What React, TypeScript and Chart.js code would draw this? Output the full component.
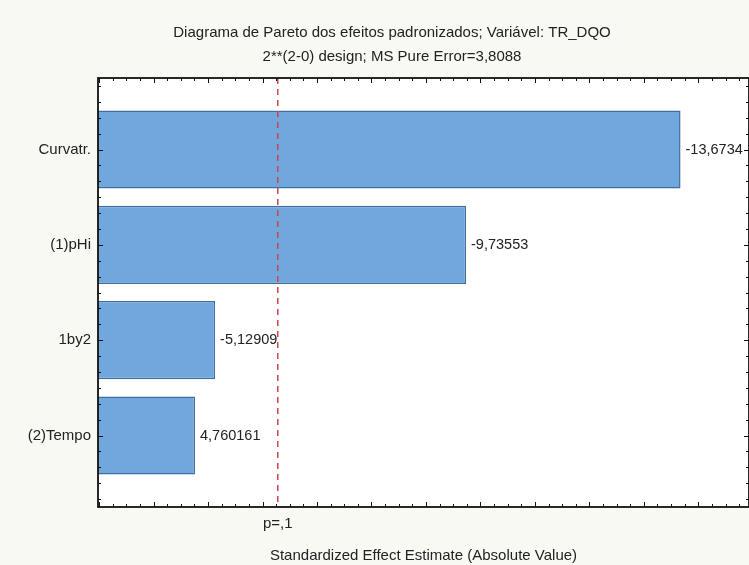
import React, { useEffect, useRef } from "react";
import { Chart, registerables } from "chart.js";

Chart.register(...registerables);

const categories = ["Curvatr.", "(1)pHi", "1by2", "(2)Tempo"];
const effects = [-13.6734, -9.73553, -5.12909, 4.760161];
const titleLines = [
  "Diagrama de Pareto dos efeitos padronizados; Variável: TR_DQO",
  "2**(2-0) design; MS Pure Error=3,8088",
];
const xAxisTitle = "Standardized Effect Estimate (Absolute Value)";
const pLabel = "p=,1";
const pValueLine = 6.28;
const xMin = 2.98;
const xMax = 14.93;

const FONT = '"Liberation Sans", Arial, sans-serif';

const framePlugin = {
  id: "framePlugin",
  beforeDraw(chart: any) {
    const { ctx, chartArea: a, width, height } = chart;
    ctx.save();
    ctx.fillStyle = "#f9f9f4";
    ctx.fillRect(0, 0, width, height);
    ctx.fillStyle = "#ffffff";
    ctx.fillRect(a.left, a.top, a.right - a.left, a.bottom - a.top);
    ctx.restore();
  },
  afterDatasetsDraw(chart: any) {
    const { ctx, chartArea: a, scales } = chart;
    const xs = scales.x;
    const ys = scales.y;
    ctx.save();
    // value labels
    const meta = chart.getDatasetMeta(0);
    ctx.font = `14.5px ${FONT}`;
    ctx.fillStyle = "#222";
    ctx.textAlign = "left";
    ctx.textBaseline = "middle";
    meta.data.forEach((bar: any, i: number) => {
      const txt = String(effects[i]).replace(".", ",");
      ctx.fillText(txt, bar.x + 5, bar.y);
    });
    // dashed p line
    const px = xs.getPixelForValue(pValueLine);
    ctx.strokeStyle = "#d0454a";
    ctx.lineWidth = 1.5;
    ctx.setLineDash([6, 5]);
    ctx.beginPath();
    ctx.moveTo(px, a.top);
    ctx.lineTo(px, a.bottom);
    ctx.stroke();
    ctx.setLineDash([]);
    // frame
    ctx.strokeStyle = "#111";
    ctx.lineWidth = 1.8;
    ctx.strokeRect(a.left, a.top, a.right - a.left, a.bottom - a.top);
    // x ticks (inside), top and bottom
    ctx.lineWidth = 1;
    for (let k = Math.ceil(xMin * 4); k <= Math.floor(xMax * 4); k++) {
      const v = k / 4;
      const x = Math.round(xs.getPixelForValue(v)) + 0.5;
      const len = k % 4 === 0 ? 5 : 3;
      ctx.beginPath();
      ctx.moveTo(x, a.top);
      ctx.lineTo(x, a.top + len);
      ctx.moveTo(x, a.bottom);
      ctx.lineTo(x, a.bottom - len);
      ctx.stroke();
    }
    // y ticks (inside), left and right
    for (let k = Math.ceil(ys.min * 6); k <= Math.floor(ys.max * 6); k++) {
      const v = k / 6;
      const y = Math.round(ys.getPixelForValue(v)) + 0.5;
      const len = k % 6 === 0 ? 5 : 3;
      ctx.beginPath();
      ctx.moveTo(a.left, y);
      ctx.lineTo(a.left + len, y);
      ctx.moveTo(a.right, y);
      ctx.lineTo(a.right - len, y);
      ctx.stroke();
    }
    // p label
    ctx.font = `15px ${FONT}`;
    ctx.fillStyle = "#222";
    ctx.textAlign = "center";
    ctx.textBaseline = "middle";
    ctx.fillText(pLabel, px, a.bottom + 17);
    // titles
    ctx.font = `15px ${FONT}`;
    ctx.fillText(titleLines[0], 392, 33);
    ctx.fillText(titleLines[1], 392, 57);
    ctx.restore();
  },
};

export default function App() {
  const ref = useRef<HTMLCanvasElement | null>(null);
  useEffect(() => {
    if (!ref.current) return;
    const chart = new Chart(ref.current, {
      type: "bar",
      data: {
        datasets: [
          {
            data: effects.map((v, i) => ({ x: Math.abs(v), y: i })),
            backgroundColor: "#70a7dc",
            borderColor: "#3f6fa2",
            borderWidth: 1.5,
            borderSkipped: false,
            barPercentage: 0.82,
            categoryPercentage: 1,
            base: 0,
          },
        ],
      },
      options: {
        indexAxis: "y",
        responsive: false,
        animation: false,
        layout: { padding: { top: 78, left: 0, right: 0, bottom: 0 } },
        plugins: {
          legend: { display: false },
          tooltip: { enabled: false },
          title: { display: false },
        },
        scales: {
          x: {
            type: "linear",
            position: "bottom",
            offset: false,
            min: xMin,
            max: xMax,
            grid: { display: false, drawTicks: false },
            border: { display: false },
            ticks: { display: false },
            title: {
              display: true,
              text: xAxisTitle,
              color: "#222",
              font: { family: FONT, size: 15 },
              padding: { top: 0, bottom: 0 },
            },
            afterFit(scale: any) {
              scale.height = 58;
            },
          },
          y: {
            type: "linear",
            reverse: true,
            offset: false,
            min: -0.75,
            max: 3.75,
            grid: { display: false, drawTicks: false },
            border: { display: false },
            ticks: {
              stepSize: 1,
              includeBounds: false,
              padding: 7,
              color: "#222",
              font: { family: FONT, size: 15 },
              callback: (v: any) =>
                Number.isInteger(v) && categories[v] !== undefined ? categories[v] : "",
            },
            afterFit(scale: any) {
              scale.width = 98;
            },
          },
        },
      },
      plugins: [framePlugin],
    } as any);
    return () => chart.destroy();
  }, []);
  return (
    <div style={{ position: "fixed", left: 0, top: 0, width: 749, height: 565, overflow: "hidden" }}>
      <canvas ref={ref} width={749} height={565} style={{ display: "block" }} />
    </div>
  );
}
